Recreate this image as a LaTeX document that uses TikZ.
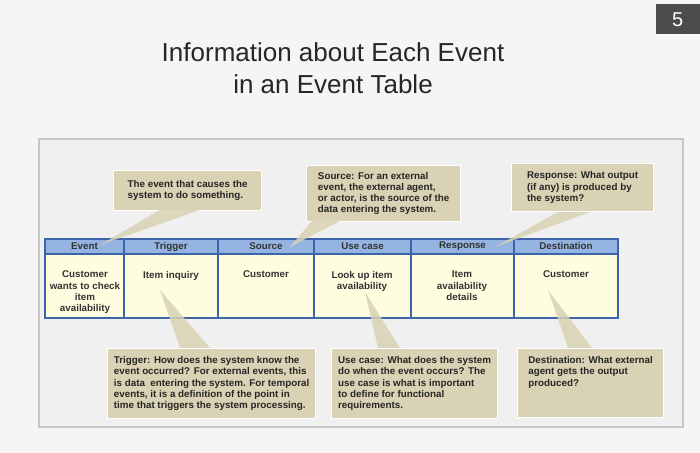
\documentclass[tikz,border=0pt]{standalone}
\usepackage{fontspec}
\setmainfont{Liberation Sans}
\definecolor{calloutc}{RGB}{217,210,180}
\definecolor{hdrc}{RGB}{150,180,225}
\definecolor{linec}{RGB}{60,100,170}
\begin{document}
\begin{tikzpicture}[x=0.5pt,y=-0.5pt,
  callout/.style={fill=calloutc,draw=white,line width=0.6pt,inner xsep=3pt,inner ysep=3pt,align=left,font=\fontsize{4.9}{5.6}\selectfont\bfseries,anchor=north west,text=black!85},
  ptr/.style={fill=calloutc,opacity=0.85},
  hdr/.style={fill=hdrc,draw=linec,line width=0.6pt},
  cell/.style={fill=yellow!12!white,draw=linec,line width=0.6pt},
  ctext/.style={font=\fontsize{4.9}{5.6}\selectfont\bfseries,align=center,anchor=north,text=black!80}]
\useasboundingbox (0,0) rectangle (700,453);
\fill[gray!8] (0,0) rectangle (700,453);
\node[fill=black!70,text=white,minimum width=22pt,minimum height=15pt,anchor=north east,font=\fontsize{10}{12}\selectfont] (pg) at (700,4) {5};
\node[font=\fontsize{13}{16}\selectfont,align=center,text=black!85] (title) at (333,68) {Information about Each Event\\in an Event Table};
\node[fill=gray!12,draw=gray!45,line width=0.8pt,minimum width=322pt,minimum height=144pt,anchor=north west,inner sep=0] (panel) at (38,138) {};
% table
\foreach \a/\b/\t [count=\i] in {45/124/Event,124/218/Trigger,218/314/Source,314/411/Use case,411/514/Response,514/618/Destination}{
  \draw[hdr] (\a,239) rectangle (\b,254);
  \draw[cell] (\a,254) rectangle (\b,318);
  \node[ctext,anchor=center] (h\i) at ({(\a+\b)/2},246.5) {\t};
}
\node[ctext] (c1) at (85,264) {Customer\\wants to check\\item\\availability};
\node[ctext] (c2) at (171,264) {Item inquiry};
\node[ctext] (c3) at (266,264) {Customer};
\node[ctext] (c4) at (362,264) {Look up item\\availability};
\node[ctext] (c5) at (462,264) {Item\\availability\\details};
\node[ctext] (c6) at (566,264) {Customer};
% top callouts
\coordinate (p1) at (100,245);
\coordinate (p2) at (290,247);
\coordinate (p3) at (495,247);
\node[callout,minimum width=74pt,minimum height=20pt] (k1) at (113,170) {The event that causes the\\system to do something.};
\node[callout,minimum width=77pt,minimum height=28pt] (k2) at (306,165) {Source: For an external\\event, the external agent,\\or actor, is the source of the\\data entering the system.};
\node[callout,minimum width=71pt,minimum height=24pt] (k3) at (511,163) {Response: What output\\(if any) is produced by\\the system?};
\fill[ptr] (160,210) -- (p1) -- (200,210) -- cycle;
\fill[ptr] (312,221) -- (p2) -- (340,221) -- cycle;
\fill[ptr] (558,212) -- (p3) -- (590,212) -- cycle;
% bottom callouts
\coordinate (q1) at (160,290);
\coordinate (q2) at (365,292);
\coordinate (q3) at (548,290);
\fill[ptr] (q1) -- (210,348) -- (180,348) -- cycle;
\fill[ptr] (q2) -- (400,348) -- (378,348) -- cycle;
\fill[ptr] (q3) -- (592,348) -- (568,348) -- cycle;
\node[callout,minimum width=104pt,inner ysep=4pt] (b1) at (107,348) {Trigger: How does the system know the\\event occurred? For external events, this\\is data\ \ entering the system. For temporal\\events, it is a definition of the point in\\time that triggers the system processing.};
\node[callout,minimum width=83pt,inner ysep=4pt] (b2) at (331,348) {Use case: What does the system\\do when the event occurs? The\\use case is what is important\\to define for functional\\requirements.};
\node[callout,minimum width=73pt,inner ysep=4pt] (b3) at (517,348) {Destination: What external\\agent gets the output\\produced?\\[6pt]};
\end{tikzpicture}
\end{document}
